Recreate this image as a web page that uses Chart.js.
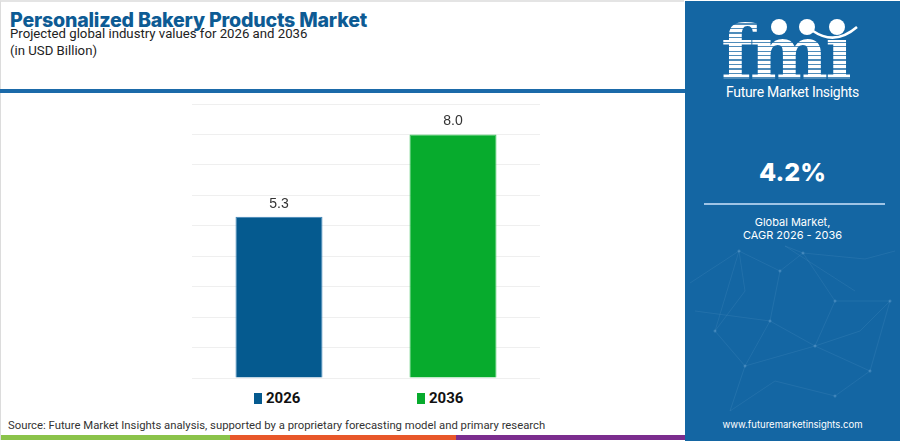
<!DOCTYPE html>
<html>
<head>
<meta charset="utf-8">
<script src="https://cdn.jsdelivr.net/npm/chart.js@4.4.1/dist/chart.umd.min.js"></script>
<style>
  html, body { margin: 0; padding: 0; }
  body { width: 900px; height: 441px; overflow: hidden; background: #fff; position: relative; font-family: Inter, "Open Sans", sans-serif; }
  .frame { position: absolute; left: 0; top: 0; width: 684px; height: 440px; border-left: 1px solid #dcdcdc; border-top: 2px solid #e4e4e4; box-sizing: border-box; }
  .title { position: absolute; left: 10px; top: 8px; font-size: 19.6px; font-weight: 800; color: #0d5b94; letter-spacing: -0.2px; white-space: nowrap; }
  .sub { position: absolute; left: 10px; font-family: Roboto, sans-serif; font-size: 13.2px; color: #222; white-space: nowrap; }
  .rule { position: absolute; left: 0; top: 89px; width: 685px; height: 4px; background: #1b6aa9; }
  #wrap { position: absolute; left: 140px; top: 95px; width: 440px; height: 291px; }
  .legend { position: absolute; top: 389px; display: flex; align-items: center; font-family: Roboto, sans-serif; font-weight: 700; font-size: 15px; color: #111; }
  .legend i { display: inline-block; width: 8px; height: 11px; margin-right: 4px; }
  .source { position: absolute; left: 8px; top: 419px; font-family: Roboto, sans-serif; font-size: 11.3px; color: #333; white-space: nowrap; }
  .strip { position: absolute; top: 435px; height: 5px; }
  .panel { position: absolute; left: 685px; top: 1px; width: 215px; height: 440px; background: #1466a3; color: #fff; overflow: hidden; }
  .panel svg { position: absolute; left: 0; top: 0; }
  .logo { position: absolute; left: 36px; top: 15px; font-family: "DejaVu Serif", serif; font-weight: 700; font-size: 74px; line-height: 74px; letter-spacing: -3px;
          background: repeating-linear-gradient(to bottom, #fff 0 3px, rgba(255,255,255,0.25) 3px 4.5px); -webkit-background-clip: text; background-clip: text; color: transparent; }
  .globe { position: absolute; width: 16px; height: 16px; border-radius: 50%; background: #fff; }
  .brand { position: absolute; left: 0; width: 215px; text-align: center; top: 83px; font-family: Roboto, sans-serif; font-size: 14px; letter-spacing: -0.3px; }
  .cagr { position: absolute; left: 0; width: 215px; text-align: center; top: 156px; font-size: 25px; font-weight: 800; }
  .line { position: absolute; left: 19px; width: 181px; top: 202px; height: 2px; background: #9fc4e6; }
  .gm { position: absolute; left: 0; width: 215px; text-align: center; top: 215px; font-size: 11px; line-height: 13px; }
  .url { position: absolute; left: 0; width: 215px; text-align: center; top: 418px; font-size: 9.5px; }
</style>
</head>
<body>
<div class="frame"></div>
<div class="title">Personalized Bakery Products Market</div>
<div class="sub" style="top:26px">Projected global industry values for 2026 and 2036</div>
<div class="sub" style="top:43px">(in USD Billion)</div>
<div class="rule"></div>

<div id="wrap"><canvas id="chart"></canvas></div>
<div id="legend"></div>

<div class="source">Source: Future Market Insights analysis, supported by a proprietary forecasting model and primary research</div>
<div class="strip" style="left:1px;width:229px;background:#8bc34a"></div>
<div class="strip" style="left:230px;width:226px;background:#e8572a"></div>
<div class="strip" style="left:456px;width:229px;background:#7b2d8e"></div>

<div class="panel">
  <svg width="215" height="440" viewBox="0 0 215 440">
    <g stroke="#6fa4d0" stroke-opacity="0.2" stroke-width="0.8" fill="none">
      <polyline points="5,282 54,250 95,270 118,252 180,258 210,250"/>
      <polyline points="54,250 30,330 60,365 45,410 90,380 150,395 185,370 205,300"/>
      <polyline points="95,270 85,320 130,345 150,300 118,252"/>
      <polyline points="10,310 85,320 60,365 130,345 185,370"/>
      <polyline points="150,300 205,300 175,330 130,345"/>
      <polyline points="54,250 60,290 30,330"/>
      <polyline points="118,252 100,245 170,290"/>
    </g>
    <g fill="#8fbde3" fill-opacity="0.3">
      <circle cx="54" cy="250" r="1.5"/><circle cx="95" cy="270" r="1.5"/><circle cx="118" cy="252" r="1.5"/>
      <circle cx="30" cy="330" r="1.5"/><circle cx="60" cy="365" r="1.5"/><circle cx="85" cy="320" r="1.5"/>
      <circle cx="130" cy="345" r="1.5"/><circle cx="150" cy="300" r="1.5"/><circle cx="185" cy="370" r="1.5"/>
      <circle cx="205" cy="300" r="1.5"/><circle cx="150" cy="395" r="1.5"/>
    </g>
  </svg>
  <div class="logo">fm&#305;</div>
  <div class="globe" style="left:86px;top:18px"></div>
  <div class="globe" style="left:114px;top:18px"></div>
  <div class="globe" style="left:144px;top:18px"></div>
  <svg width="215" height="60" viewBox="0 0 215 60" style="top:0">
    <path d="M 128 30 Q 150 45 172 26" stroke="#fff" stroke-width="2.5" fill="none"/>
  </svg>
  <div class="brand">Future Market Insights</div>
  <div class="cagr">4.2%</div>
  <div class="line"></div>
  <div class="gm">Global Market,<br>CAGR 2026 - 2036</div>
  <div class="url">www.futuremarketinsights.com</div>
</div>

<script>
const categories = ['2026', '2036'];
const marketValues = [5.3, 8.0];
const barColors = ['#055a8f', '#07ab2d'];
const barBorders = ['#3f84b8', '#3cc45c'];
const legendCenters = [277, 440];

// legend built from the same arrays
const legendEl = document.getElementById('legend');
categories.forEach((label, i) => {
  const item = document.createElement('div');
  item.className = 'legend';
  item.innerHTML = '<i style="background:' + barColors[i] + '"></i>' + label;
  legendEl.appendChild(item);
  item.style.left = (legendCenters[i] - item.offsetWidth / 2) + 'px';
});

const valueLabels = {
  id: 'valueLabels',
  afterDatasetsDraw(chart) {
    const ctx = chart.ctx;
    const meta = chart.getDatasetMeta(0);
    ctx.save();
    ctx.font = '14px "Liberation Sans", Arial, sans-serif';
    ctx.fillStyle = '#333';
    ctx.textAlign = 'center';
    ctx.textBaseline = 'bottom';
    meta.data.forEach((bar, i) => {
      ctx.fillText(marketValues[i].toFixed(1), bar.x, bar.y - 6);
    });
    ctx.restore();
  }
};

const ctx = document.getElementById('chart').getContext('2d');
const marketChart = new Chart(ctx, {
  type: 'bar',
  data: {
    labels: categories,
    datasets: [{
      label: 'Market value',
      data: marketValues,
      backgroundColor: barColors,
      borderColor: barBorders,
      borderWidth: 1,
      barPercentage: 0.5,
      categoryPercentage: 1.0
    }]
  },
  options: {
    responsive: true,
    maintainAspectRatio: false,
    animation: false,
    layout: { padding: { left: 52, right: 40, top: 9, bottom: 0 } },
    scales: {
      x: {
        grid: { display: false },
        border: { display: false },
        ticks: { display: false }
      },
      y: {
        min: 0,
        max: 9,
        ticks: { display: false, stepSize: 1 },
        grid: { color: '#efefef', drawTicks: false },
        border: { display: false }
      }
    },
    plugins: {
      legend: { display: false },
      tooltip: { enabled: false }
    }
  },
  plugins: [valueLabels]
});
</script>
</body>
</html>
